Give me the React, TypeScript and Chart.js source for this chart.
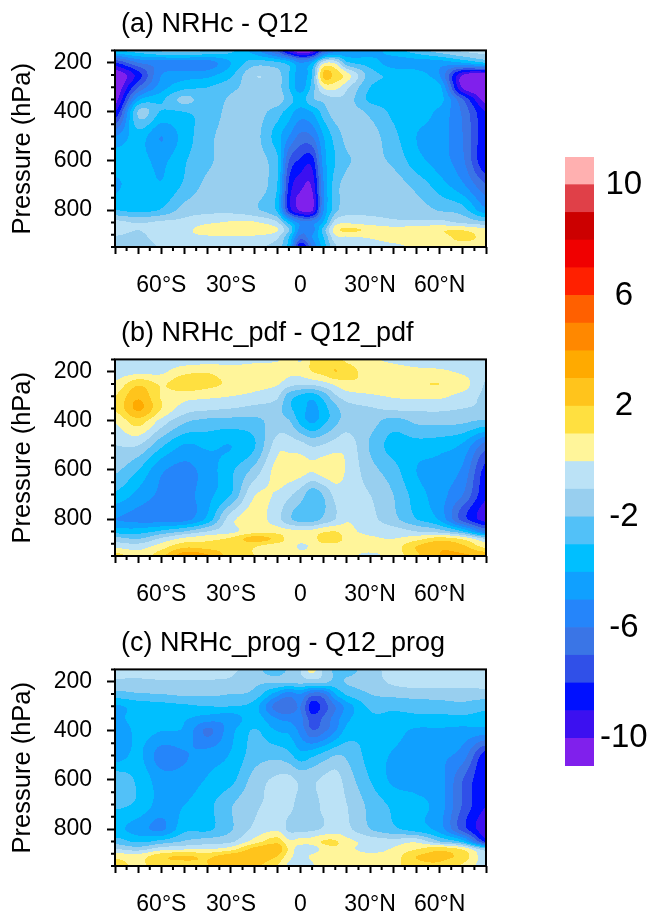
import React, { useEffect, useRef } from "react";
import { Chart, registerables } from "chart.js";

Chart.register(...registerables);

const FONT = "'Liberation Sans', Arial, sans-serif";

const lats = [-80, -70, -60, -50, -40, -30, -20, -10, -5, 0, 5, 10, 15, 20, 30, 40, 50, 60, 70, 80];
const pressures = [150, 200, 250, 300, 350, 400, 500, 600, 700, 800, 850, 880, 910, 950];
const latMajorTicks = [-80, -70, -60, -50, -40, -30, -20, -10, 0, 10, 20, 30, 40, 50, 60, 70, 80];
const latMinorTicks = [-75, -65, -55, -45, -35, -25, -15, -5, 5, 15, 25, 35, 45, 55, 65, 75];
const latLabels: Record<number, string> = { [-60]: "60°S", [-30]: "30°S", 0: "0", 30: "30°N", 60: "60°N" };
const pressureMajorTicks = [200, 400, 600, 800];
const pressureMinorTicks = [150, 250, 300, 350, 450, 500, 550, 650, 700, 750, 850, 900, 950];
const colorbarTicks = [-10, -6, -2, 2, 6, 10];

const levelFloors = [-11, -10, -9, -8, -7, -6, -5, -4, -3, -2, -1, 0, 1, 2, 3, 4, 5, 6, 7, 8, 9, 10];
const levelColors = [
  "#8020EC", "#3C10F0", "#0010FF", "#3050E8", "#3A75E6", "#2585FA", "#10A0FF", "#00BFFF", "#52C1F8", "#98CFEF", "#BBE2F6",
  "#FFF59A", "#FFE040", "#FFC41C", "#FFAA00", "#FF8800", "#FF6000", "#FF2000", "#F00000", "#CC0000", "#E04048", "#FFB0B0",
];

const panelA = [
  [-3, -2.5, -1.8, -1.5, -2, -2.8, -4.5, -7, -9.5, -11, -10.5, -7, -5.5, -5, -4.5, -3.5, -2.5, -1.5, -0.8, -0.6],
  [-8, -6, -5.5, -5.5, -5.5, -4, -2.5, -2.8, -3.5, -5, -4, -0.3, -0.3, -2.8, -3.5, -4.5, -4.5, -4.5, -4, -3],
  [-11, -8.5, -5, -4.5, -4.3, -3.2, -1.1, -1.6, -3, -4.5, -3, 2.3, 1.6, 0.4, -2.5, -3.2, -3.5, -5, -10, -10.8],
  [-11, -7, -4.5, -3.3, -3, -2.3, -1.5, -1.6, -3, -4.5, -2.6, 0.2, 0.3, -0.8, -3, -3.3, -3.5, -3.7, -10.2, -11],
  [-10.5, -4.3, -3.2, -1.7, -2.7, -1.8, -1.5, -1.5, -2.5, -3.5, -2.2, -1.7, -1.2, -1.5, -3.2, -3.3, -3.4, -3.6, -7, -10.5],
  [-9, -1.9, -3.1, -3, -2.7, -1.6, -1.5, -2.5, -3.5, -4.5, -4, -2.5, -1.5, -1.5, -2.2, -3.2, -3.5, -4.3, -6.2, -9],
  [-5, -3.5, -5, -3.5, -2.3, -1.5, -1.6, -3.5, -5, -6.3, -6, -4, -2.6, -1.7, -1.6, -2.7, -4, -4.5, -6, -8.8],
  [-3.5, -3.6, -4.2, -3.1, -2.2, -1.5, -1.5, -2.8, -7, -8.2, -8.5, -4.5, -3, -2.1, -1.8, -2.2, -3.6, -4.5, -5.8, -9],
  [-4.2, -3.4, -3.9, -2.8, -1.7, -1.4, -1.4, -3, -8.2, -9.7, -9.8, -5, -2.5, -1.6, -1.4, -1.5, -2.3, -3.5, -4.8, -6.8],
  [-3, -3.3, -2.9, -1.6, -1.3, -1.3, -1.8, -3.2, -8.3, -10.2, -10.2, -5, -2.4, -1.4, -1.3, -1.3, -1.5, -2.1, -2.6, -4.8],
  [-0.7, -1.1, -0.8, -0.7, -0.2, 0.1, 0.1, -0.9, -3.5, -5.5, -5.5, -3.8, -0.6, -0.2, -0.5, -0.8, -0.8, -0.7, -1.2, -1.8],
  [-0.6, -1, -0.5, -0.3, 0.6, 0.6, 0.7, 0.1, -2, -5.5, -5.5, -2.5, 0.5, 1.2, 0.8, 0.5, 0.7, 0.9, 0.9, 0.3],
  [-1.1, -1.3, -0.5, -0.3, -0.2, -0.1, -0.2, -0.8, -3, -6.5, -5, -3, -0.3, -0.1, 0.1, 0.5, 0.5, 0.6, 1.3, 0.7],
  [-1.6, -1.6, -0.9, -0.8, -0.8, -0.7, -0.8, -1.5, -3.5, -9, -6, -3.5, -1.2, -0.8, -0.6, -0.3, 0.2, 0.3, 0.5, 0.6],
];

const panelB = [
  [-0.6, -0.6, -0.6, -0.6, -0.5, -0.3, -0.2, -0.1, 0.7, -0.1, 1.2, 1.4, 1.2, 0.8, 0.2, -0.2, -0.5, -0.6, -0.7, -0.7],
  [-0.5, -0.3, -0.2, 0.7, 0.9, 0.4, 0.5, 0.6, 0.3, 0.3, 1, 1.4, 2, 1.5, 0.5, 0.5, 0.3, 0.2, -0.2, -0.8],
  [0.2, 1.8, 0.9, 1.7, 1.3, 0.8, 0.4, 0.1, -0.6, -0.9, -0.8, -0.4, 0.2, 0.7, 0.8, 0.8, 0.9, 1, 0.5, -1.1],
  [1, 2.8, 0.9, 0.4, 0.2, 0, -0.3, -0.8, -2.5, -3.2, -3.6, -2.6, -1.2, -0.5, -0.2, 0.1, 0.2, 0.2, -0.4, -1.2],
  [1.1, 3.2, 1, -0.5, -0.8, -1, -1.3, -1.5, -2.8, -3.4, -4.4, -3.4, -2.3, -1.4, -1.1, -0.8, -0.8, -0.8, -1, -1.2],
  [0.1, 1.5, -0.4, -1.8, -2.3, -2.4, -2.3, -1.6, -1.9, -3.3, -4.2, -3.3, -2.3, -1.5, -1.6, -2.4, -1.8, -1.7, -1.8, -2.2],
  [-1, -1, -2.8, -4.1, -3.8, -4, -3.1, -0.5, -0.4, -0.6, -1.1, -0.9, -0.5, -0.4, -2.1, -3.4, -3.4, -3.6, -4.2, -6.5],
  [-1.8, -3, -4.8, -5.3, -4.5, -3.2, -1.7, 0.4, 0.6, 0.4, 0.1, 0.5, 0.7, -0.2, -1.6, -2.6, -4, -4.4, -5.2, -8.4],
  [-3.2, -4.3, -5.2, -5.4, -4.3, -3, -0.1, -0.1, -0.8, -1.5, -2.6, -1.9, -0.7, -0.5, -1, -2, -3.5, -4.6, -6, -8.8],
  [-5, -5.3, -5.5, -5.4, -3.7, -0.4, 0.5, -0.6, -1.8, -2.4, -2.5, -1.8, -1, -0.1, -0.7, -1.7, -3, -4.2, -7.5, -9.5],
  [-3.5, -3.5, -2.8, -2, -1, -0.3, 0.6, 0.6, 0.3, 0.2, 0.3, 0.8, 1, 0.3, -0.3, -0.5, -1, -1.5, -3, -6],
  [-1.6, -2, -0.8, 0.3, 0.7, 1.2, 2.5, 1.7, 0.6, 0.5, 0.6, 1.5, 1.6, 0.6, 0.2, 0, 0.6, 1.5, 0.8, -1],
  [-0.3, -0.5, 0.5, 1.7, 1.5, 1.5, 1.1, 0.5, 0.6, -0.2, 0.2, 0.6, 0.5, 0.4, 0.4, 0.5, 2, 2.8, 2.2, 0.6],
  [1.5, 0.5, 1.7, 3.7, 3.2, 1.5, 1, 0.8, 0.7, 0.5, 0.4, 0.3, 0.2, 0.2, -0.2, 0.4, 1.8, 3, 3.2, 2.8],
];

const panelC = [
  [-0.6, -0.6, -0.6, -0.6, -0.6, -0.8, -1.6, -2.5, -1.8, -1, 0.4, -1.2, -2.2, -2.4, -1.4, -0.7, -0.7, -0.6, -0.6, -0.6],
  [-1.2, -1.2, -1.1, -1.1, -1.1, -1.2, -1.8, -1.9, -1.8, -1.6, -1.6, -1.7, -2.3, -1.9, -1.5, -0.8, -0.6, -0.6, -0.6, -0.5],
  [-2.4, -2.1, -2, -1.8, -1.8, -2, -2.3, -4.5, -5.5, -5, -6.4, -6.2, -4, -2.8, -2, -1.7, -1.5, -1.5, -1.5, -1.5],
  [-4.2, -3.6, -3.4, -3.2, -3, -3, -3.5, -6.5, -6.8, -6, -8.6, -7.5, -6, -4.5, -2.8, -2.8, -2.7, -2.5, -2.3, -2.7],
  [-4.5, -3.4, -3.7, -3.9, -4.5, -4.6, -3.5, -5, -5.3, -5.7, -7.5, -6.8, -5.5, -4.2, -3.2, -3.2, -3.2, -3.3, -3.3, -3.5],
  [-5, -3.7, -4, -4.2, -6.2, -4.3, -2.9, -4, -4.2, -5.3, -6.8, -6.2, -5, -3.6, -3.1, -3.6, -4.2, -4.2, -4.4, -4.5],
  [-4.6, -3.8, -5.5, -5.1, -4.5, -3.9, -2.5, -2.3, -2.7, -3.6, -3.2, -2.6, -2, -2.2, -3.4, -4.1, -4.4, -4.8, -5.5, -8.6],
  [-2.3, -3.2, -4.5, -4.5, -3.9, -3.3, -1.6, -0.8, -0.7, -1.2, -1.2, -0.8, -0.6, -1.5, -3, -4.2, -4.4, -4.6, -7, -9],
  [-2.8, -3.2, -4.4, -4, -3.3, -2.1, -1.2, -0.7, -0.7, -1.4, -1.4, -0.8, -0.7, -1, -2.3, -3.2, -3.7, -4.5, -7.1, -9],
  [-3.7, -4.5, -5.2, -3.3, -3.2, -2.1, -0.8, -0.2, -1.2, -1.3, -1.2, -0.9, -0.6, -0.8, -2, -2.8, -3.5, -4.5, -7.5, -9.7],
  [-2.5, -3.2, -2.7, -1.9, -1.5, -1.2, 0.4, 1.6, 0.2, 0.3, 0.4, 1.1, 1.1, 0.3, -0.4, -0.6, -0.3, -2, -3.5, -8.3],
  [-1, -1.5, -0.5, -0.2, -0.1, 0.5, 2.3, 2.7, 0.8, -0.6, -0.6, 0.4, 0.8, 0.3, -0.4, 0.1, 0.9, 1.6, 0.7, -1.8],
  [0.7, 0.5, 1.7, 2.1, 1.8, 2.6, 2.8, 2, 0.4, -0.5, 0.2, 0.6, 0.5, 0.4, 0.4, 0.5, 2, 2.2, 1.6, -0.7],
  [1.5, 0.8, 1.6, 1.5, 2, 2.5, 2.3, 1, -0.3, -0.9, -0.2, 0.7, 0.5, 0.5, 1, 0.8, 1.6, 1.8, 0.8, -0.6],
];

const titles = ["(a) NRHc - Q12", "(b) NRHc_pdf - Q12_pdf", "(c) NRHc_prog - Q12_prog"];
const panels = [panelA, panelB, panelC];
const panelTops = [0, 309, 619];

function fractionalIndex(axis: number[], v: number) {
  if (v <= axis[0]) return 0;
  for (let i = 1; i < axis.length; i++) {
    if (v <= axis[i]) return i - 1 + (v - axis[i - 1]) / (axis[i] - axis[i - 1]);
  }
  return axis.length - 1;
}

function catmull(a: number, b: number, c: number, d: number, t: number) {
  return b + 0.5 * t * (c - a + t * (2 * a - 5 * b + 4 * c - d + t * (3 * (b - c) + d - a)));
}

function fieldAt(grid: number[][], fx: number, fy: number) {
  const nx = grid[0].length;
  const ny = grid.length;
  const ix = Math.min(Math.floor(fx), nx - 2);
  const iy = Math.min(Math.floor(fy), ny - 2);
  const tx = fx - ix;
  const ty = fy - iy;
  const rows: number[] = [];
  for (let j = -1; j <= 2; j++) {
    const r = grid[Math.max(0, Math.min(ny - 1, iy + j))];
    rows.push(
      catmull(r[Math.max(0, ix - 1)], r[ix], r[ix + 1], r[Math.min(nx - 1, ix + 2)], tx)
    );
  }
  return catmull(rows[0], rows[1], rows[2], rows[3], ty);
}

function colorFor(v: number) {
  let idx = 0;
  for (let i = 0; i < levelFloors.length; i++) {
    if (v >= levelFloors[i]) idx = i;
  }
  return levelColors[idx];
}

const contourPlugin = {
  id: "contourFill",
  beforeDatasetsDraw(chart: any) {
    const { ctx, chartArea: a, scales } = chart;
    const pts = chart.data.datasets[0].data as { v: number }[];
    const nx = lats.length;
    const grid: number[][] = [];
    for (let j = 0; j < pressures.length; j++) {
      grid.push(pts.slice(j * nx, (j + 1) * nx).map((p) => p.v));
    }
    ctx.save();
    const L = Math.round(a.left);
    const R = Math.round(a.right);
    const T = Math.round(a.top);
    const B = Math.round(a.bottom);
    for (let px = L; px < R; px++) {
      const fx = fractionalIndex(lats, scales.x.getValueForPixel(px + 0.5));
      let start = T;
      let current = "";
      for (let py = T; py <= B; py++) {
        const col =
          py === B ? "" : colorFor(fieldAt(grid, fx, fractionalIndex(pressures, scales.y.getValueForPixel(py + 0.5))));
        if (col !== current) {
          if (current) {
            ctx.fillStyle = current;
            ctx.fillRect(px, start, 1, py - start);
          }
          current = col;
          start = py;
        }
      }
    }
    ctx.restore();
  },
  afterDraw(chart: any) {
    const { ctx, chartArea: a, scales } = chart;
    ctx.save();
    ctx.strokeStyle = "#000";
    ctx.lineWidth = 2;
    ctx.strokeRect(a.left, a.top, a.right - a.left, a.bottom - a.top);
    ctx.beginPath();
    for (const v of latMinorTicks) {
      const x = scales.x.getPixelForValue(v);
      ctx.moveTo(x, a.bottom);
      ctx.lineTo(x, a.bottom + 4);
    }
    for (const v of pressureMinorTicks) {
      const y = scales.y.getPixelForValue(v);
      ctx.moveTo(a.left, y);
      ctx.lineTo(a.left - 4, y);
    }
    ctx.stroke();
    ctx.restore();
  },
};

const titleOffsetPlugin = {
  id: "titleOffset",
  afterLayout(chart: any) {
    if (chart.titleBlock) {
      chart.titleBlock.left += 6;
      chart.titleBlock.right += 6;
    }
  },
};

function Panel({ title, values, top }: { title: string; values: number[][]; top: number }) {
  const ref = useRef<HTMLCanvasElement>(null);
  useEffect(() => {
    const points: { x: number; y: number; v: number }[] = [];
    pressures.forEach((p, j) => lats.forEach((lat, i) => points.push({ x: lat, y: p, v: values[j][i] })));
    const chart = new Chart(ref.current as HTMLCanvasElement, {
      type: "scatter",
      data: { datasets: [{ label: title, data: points as any, pointRadius: 0 }] },
      options: {
        animation: false,
        responsive: false,
        layout: { autoPadding: false, padding: { top: 8, left: 0, right: 0, bottom: 0 } },
        plugins: {
          legend: { display: false },
          tooltip: { enabled: false },
          title: {
            display: true,
            text: title,
            align: "start",
            fullSize: false,
            color: "#000",
            font: { family: FONT, size: 27, weight: "normal", lineHeight: 1.2 },
            padding: { top: 0, bottom: 10 },
          },
        },
        scales: {
          x: {
            type: "linear",
            min: -80,
            max: 80,
            afterBuildTicks: (s: any) => {
              s.ticks = latMajorTicks.map((value) => ({ value }));
            },
            afterFit: (s: any) => {
              s.height = 51;
            },
            border: { display: false },
            grid: { drawOnChartArea: false, drawTicks: true, tickLength: 7, tickWidth: 2, tickColor: "#000" },
            ticks: {
              autoSkip: false,
              maxRotation: 0,
              padding: 18,
              color: "#000",
              font: { family: FONT, size: 23 },
              callback: (v: any) => latLabels[v as number] ?? "",
            },
          },
          y: {
            type: "linear",
            reverse: true,
            min: 150,
            max: 950,
            afterBuildTicks: (s: any) => {
              s.ticks = pressureMajorTicks.map((value) => ({ value }));
            },
            afterFit: (s: any) => {
              s.width = 115;
            },
            border: { display: false },
            grid: { drawOnChartArea: false, drawTicks: true, tickLength: 8, tickWidth: 2, tickColor: "#000" },
            title: {
              display: true,
              text: "Pressure (hPa)",
              color: "#000",
              font: { family: FONT, size: 25.5, lineHeight: 1.2 },
              padding: { top: 8, bottom: 0 },
            },
            ticks: {
              padding: 15,
              color: "#000",
              font: { family: FONT, size: 23 },
              callback: (v: any) => String(v),
            },
          },
        },
      },
      plugins: [contourPlugin, titleOffsetPlugin],
    } as any);
    return () => chart.destroy();
  }, []);
  return <canvas ref={ref} width={504} height={298} style={{ position: "absolute", left: 0, top, width: 504, height: 298 }} />;
}

function Colorbar() {
  const ref = useRef<HTMLCanvasElement>(null);
  useEffect(() => {
    const chart = new Chart(ref.current as HTMLCanvasElement, {
      type: "bar",
      data: {
        labels: ["level"],
        datasets: levelFloors.map((f, i) => ({
          label: String(f),
          data: [[f, f + 1]] as any,
          backgroundColor: levelColors[i],
          borderWidth: 0,
          categoryPercentage: 1,
          barPercentage: 1,
          grouped: false,
        })),
      },
      options: {
        animation: false,
        responsive: false,
        layout: { autoPadding: false, padding: { top: 157, bottom: 916 - 766, left: 15, right: 0 } },
        plugins: { legend: { display: false }, tooltip: { enabled: false }, title: { display: false } },
        scales: {
          x: { display: false },
          y: {
            type: "linear",
            position: "right",
            min: -11,
            max: 11,
            afterBuildTicks: (s: any) => {
              s.ticks = colorbarTicks.map((value) => ({ value }));
            },
            afterFit: (s: any) => {
              s.width = 55;
            },
            border: { display: false },
            grid: { display: false, drawTicks: false },
            ticks: {
              padding: 6,
              crossAlign: "center",
              color: "#000",
              font: { family: FONT, size: 33 },
              callback: (v: any) => String(v),
            },
          },
        },
      },
    } as any);
    return () => chart.destroy();
  }, []);
  return <canvas ref={ref} width={99} height={916} style={{ position: "absolute", left: 550, top: 0, width: 99, height: 916 }} />;
}

export default function App() {
  return (
    <div style={{ position: "absolute", left: 0, top: 0, width: 649, height: 916, overflow: "hidden", background: "#fff" }}>
      {panels.map((values, i) => (
        <Panel key={titles[i]} title={titles[i]} values={values} top={panelTops[i]} />
      ))}
      <Colorbar />
    </div>
  );
}
